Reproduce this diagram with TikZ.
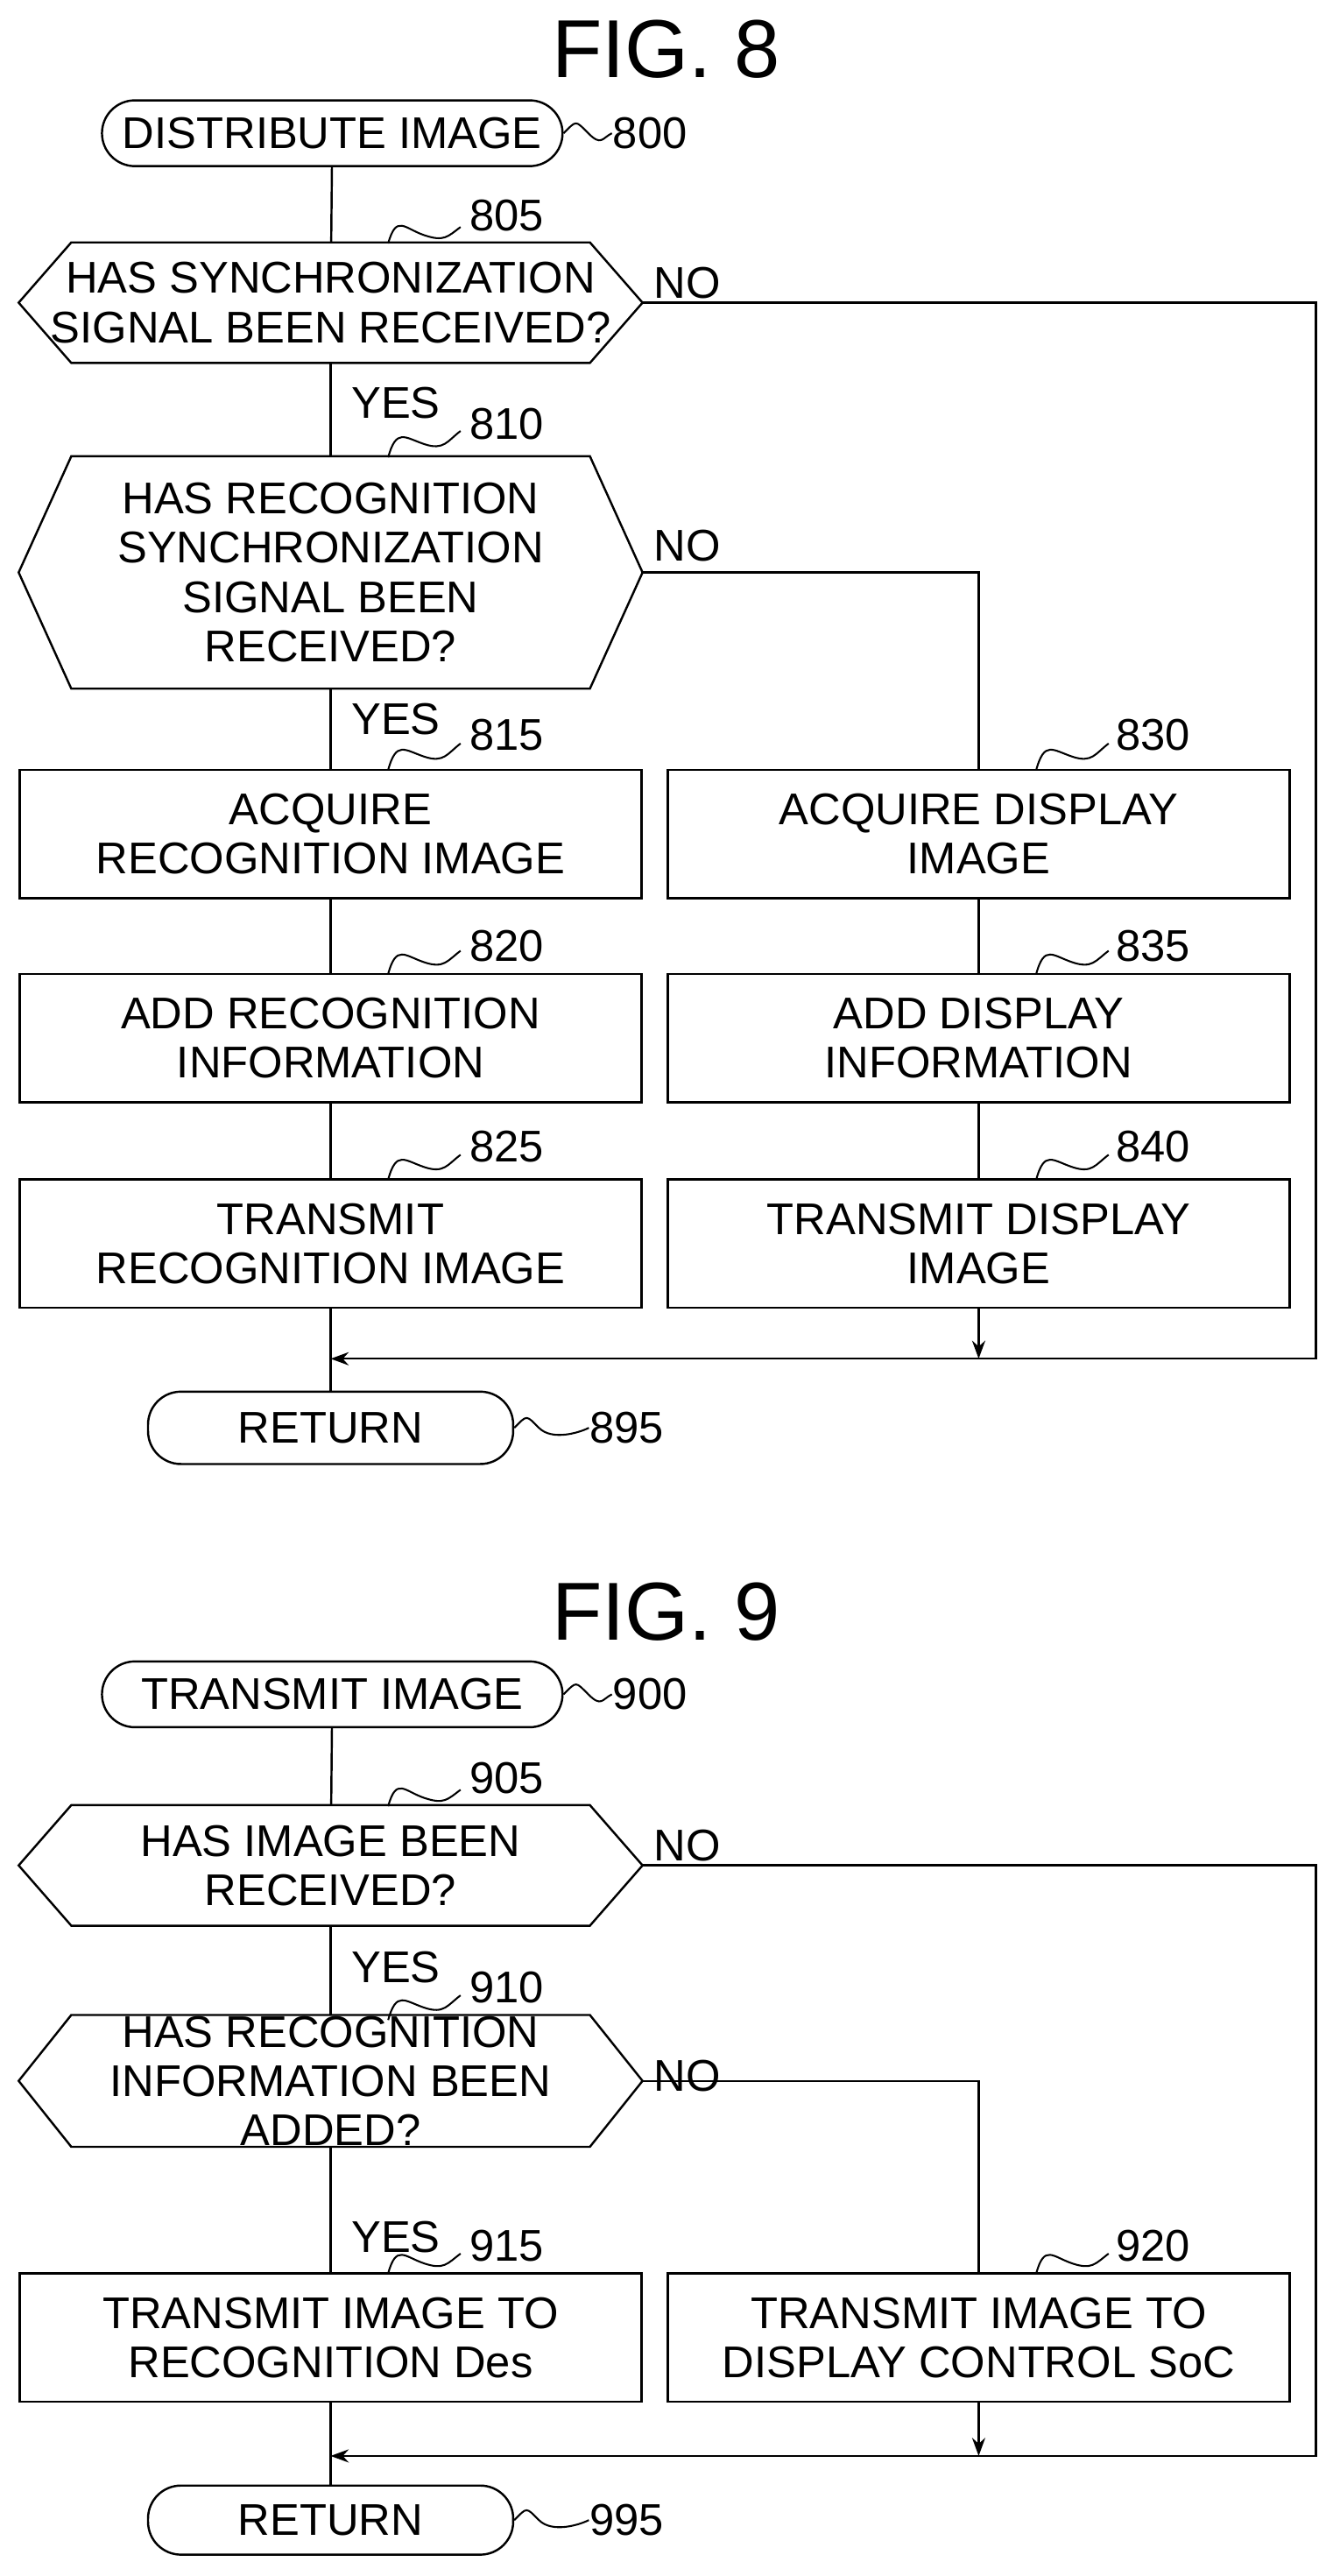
\documentclass[tikz,border=0pt]{standalone}
\usepackage{fontspec}
\setmainfont{Liberation Sans}
\usetikzlibrary{arrows.meta,calc}
\begin{document}
\begin{tikzpicture}[x=1pt,y=-1pt,line width=1.3pt,
  txt/.style={font=\fontsize{27}{30}\selectfont,align=center,inner sep=0},
  term/.style={txt,draw,rounded corners=20pt,minimum width=280pt,minimum height=40pt},
  rbox/.style={txt,draw,minimum width=378pt,minimum height=78pt},
  hexn/.style={txt,minimum width=378pt},
  lbl/.style={font=\fontsize{27}{30}\selectfont,inner sep=0,anchor=west},
  ttl/.style={font=\fontsize{50}{54}\selectfont,inner sep=0},
  arr/.style={-{Stealth[length=11pt,width=8pt]}}]
\useasboundingbox (0,0) rectangle (810,1566);
\newcommand{\hexa}[1]{\draw ($(#1.north west)+(32,0)$) -- ($(#1.north east)+(-32,0)$) -- (#1.east) -- ($(#1.south east)+(-32,0)$) -- ($(#1.south west)+(32,0)$) -- (#1.west) -- cycle;}
\newcommand{\squig}[2]{\draw[line width=1.1pt] (#1) .. controls +(5,-18) and +(-12,-4) .. ($(#1)!0.5!(#2)$) .. controls +(12,4) and +(-8,6) .. (#2);}
% FIG 8
\node[ttl] (t8) at (405,30) {FIG. 8};
\node[term] (n800) at (202,81) {DISTRIBUTE IMAGE};
\node[lbl] (l800) at (372,81) {800};
\draw[line width=1.1pt] (n800.east) .. controls +(8,-8) and +(-8,-8) .. ($(n800.east)+(15,0)$) .. controls +(8,8) and +(-6,3) .. (l800.west);
\node[hexn,minimum height=72pt] (n805) at (201,184) {HAS SYNCHRONIZATION\\SIGNAL BEEN RECEIVED?};
\hexa{n805}
\node[lbl] (l805) at (285,131) {805};
\coordinate (s805) at (236,148);
\squig{s805}{280,138}
\node[lbl] (no805) at (397,172) {NO};
\node[lbl] (y805) at (213,245) {YES};
\node[lbl] (l810) at (285,258) {810};
\squig{236,278}{280,262}
\node[hexn,minimum height=140pt] (n810) at (201,348) {HAS RECOGNITION\\SYNCHRONIZATION\\SIGNAL BEEN\\RECEIVED?};
\hexa{n810}
\node[lbl] (no810) at (397,332) {NO};
\node[lbl] (y810) at (213,437) {YES};
\node[lbl] (l815) at (285,447) {815};
\squig{236,468}{280,452}
\node[rbox] (n815) at (201,507) {ACQUIRE\\RECOGNITION IMAGE};
\node[rbox] (n830) at (595,507) {ACQUIRE DISPLAY\\IMAGE};
\node[lbl] (l830) at (678,447) {830};
\squig{630,468}{674,452}
\node[rbox] (n820) at (201,631) {ADD RECOGNITION\\INFORMATION};
\node[lbl] (l820) at (285,575) {820};
\squig{236,592}{280,578}
\node[rbox] (n835) at (595,631) {ADD DISPLAY\\INFORMATION};
\node[lbl] (l835) at (678,575) {835};
\squig{630,592}{674,578}
\node[rbox] (n825) at (201,756) {TRANSMIT\\RECOGNITION IMAGE};
\node[lbl] (l825) at (285,697) {825};
\squig{236,717}{280,702}
\node[rbox] (n840) at (595,756) {TRANSMIT DISPLAY\\IMAGE};
\node[lbl] (l840) at (678,697) {840};
\squig{630,717}{674,702}
\node[term,minimum width=222pt,minimum height=44pt] (r8) at (201,868) {RETURN};
\node[lbl] (l895) at (358,868) {895};
\draw[line width=1.1pt] (r8.east) .. controls +(8,-8) and +(-8,-8) .. ($(r8.east)+(15,0)$) .. controls +(8,8) and +(-6,3) .. (l895.west);
\coordinate (m8) at (201,826);
\coordinate (m8r) at (595,826);
\coordinate (c805) at (800,184);
\coordinate (c810) at (595,348);
\draw (n800) -- (n805);
\draw (n805) -- (n810);
\draw (n810) -- (n815);
\draw (n815) -- (n820);
\draw (n820) -- (n825);
\draw (n825) -- (r8);
\draw (n810.east) -- (c810) -- (n830);
\draw (n830) -- (n835);
\draw (n835) -- (n840);
\draw[arr] (n840) -- (m8r);
\draw[arr] (n805.east) -- (c805) -- (800,826) -- (m8);
% FIG 9
\node[ttl] (t9) at (405,980) {FIG. 9};
\node[term] (n900) at (202,1030) {TRANSMIT IMAGE};
\node[lbl] (l900) at (372,1030) {900};
\draw[line width=1.1pt] (n900.east) .. controls +(8,-8) and +(-8,-8) .. ($(n900.east)+(15,0)$) .. controls +(8,8) and +(-6,3) .. (l900.west);
\node[hexn,minimum height=72pt] (n905) at (201,1134) {HAS IMAGE BEEN\\RECEIVED?};
\hexa{n905}
\node[lbl] (l905) at (285,1081) {905};
\squig{236,1098}{280,1088}
\node[lbl] (no905) at (397,1122) {NO};
\node[lbl] (y905) at (213,1196) {YES};
\node[lbl] (l910) at (285,1208) {910};
\squig{236,1228}{280,1213}
\node[hexn,minimum height=74pt] (n910) at (201,1265) {HAS RECOGNITION\\INFORMATION BEEN\\ADDED?};
\hexa{n910}
\node[lbl] (no910) at (397,1262) {NO};
\node[lbl] (y910) at (213,1360) {YES};
\node[lbl] (l915) at (285,1365) {915};
\squig{236,1382}{280,1370}
\node[rbox] (n915) at (201,1421) {TRANSMIT IMAGE TO\\RECOGNITION Des};
\node[rbox] (n920) at (595,1421) {TRANSMIT IMAGE TO\\DISPLAY CONTROL SoC};
\node[lbl] (l920) at (678,1365) {920};
\squig{630,1382}{674,1370}
\node[term,minimum width=222pt,minimum height=42pt] (r9) at (201,1532) {RETURN};
\node[lbl] (l995) at (358,1532) {995};
\draw[line width=1.1pt] (r9.east) .. controls +(8,-8) and +(-8,-8) .. ($(r9.east)+(15,0)$) .. controls +(8,8) and +(-6,3) .. (l995.west);
\coordinate (m9) at (201,1493);
\coordinate (m9r) at (595,1493);
\coordinate (c905) at (800,1134);
\coordinate (c910) at (595,1265);
\draw (n900) -- (n905);
\draw (n905) -- (n910);
\draw (n910) -- (n915);
\draw (n915) -- (r9);
\draw (n910.east) -- (c910) -- (n920);
\draw[arr] (n920) -- (m9r);
\draw[arr] (n905.east) -- (c905) -- (800,1493) -- (m9);
\end{tikzpicture}
\end{document}
